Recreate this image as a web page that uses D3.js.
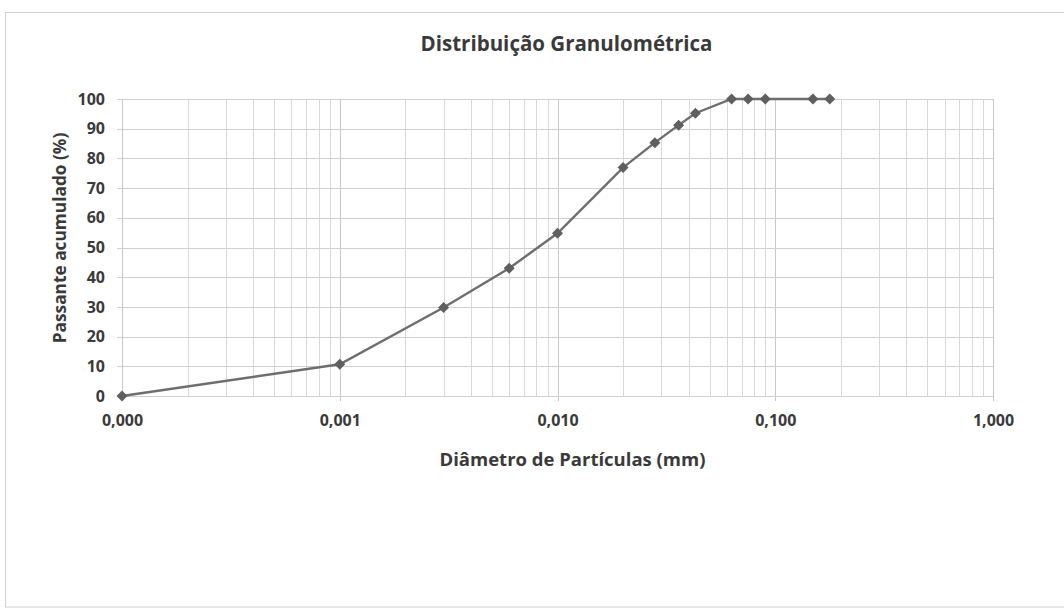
<!DOCTYPE html>
<html><head><meta charset="utf-8">
<script src="https://cdn.jsdelivr.net/npm/d3@7"></script>
<style>
body{margin:0;background:#fff;}
text{font-family:"Open Sans",sans-serif;font-weight:bold;fill:#3a3a3a;}
</style></head>
<body>
<svg id="c" width="1064" height="610"></svg>
<script>
const diameters = [0.0001, 0.001, 0.003, 0.006, 0.01, 0.02, 0.028, 0.036, 0.043, 0.063, 0.075, 0.09, 0.149, 0.178];
const passing   = [0, 10.7, 29.8, 43, 54.8, 76.9, 85.3, 91.2, 95.2, 100, 100, 100, 100, 100];
const xTickValues = [0.0001, 0.001, 0.01, 0.1, 1];
const xTickLabels = ["0,000", "0,001", "0,010", "0,100", "1,000"];
const yTickValues = [0,10,20,30,40,50,60,70,80,90,100];
const title = "Distribuição Granulométrica";
const xTitle = "Diâmetro de Partículas (mm)";
const yTitle = "Passante acumulado (%)";

const svg = d3.select("#c");
const L=122, R=993, T=99, B=396;
// chart frame
svg.append("rect").attr("x",5.5).attr("y",12.5).attr("width",1070).attr("height",594.5)
  .attr("fill","#fff").attr("stroke","#d0d0d0").attr("stroke-width",1);

const x = d3.scaleLog().domain([0.0001,1]).range([L,R]);
const y = d3.scaleLinear().domain([0,100]).range([B,T]);

// minor / major vertical gridlines
const vlines=[];
for(let e=-4;e<0;e++){ for(let m=1;m<=9;m++){ vlines.push(m*Math.pow(10,e)); } }
vlines.push(1);
const isMajor = d => Math.abs(Math.log10(d) - Math.round(Math.log10(d))) < 1e-9;
svg.append("g").selectAll("line").data(vlines).join("line")
  .attr("x1",d=>Math.round(x(d))+0.5).attr("x2",d=>Math.round(x(d))+0.5)
  .attr("y1",T).attr("y2",d=>isMajor(d)?B+5:B)
  .attr("stroke",d=>isMajor(d)?"#c8c8c8":"#d9d9d9").attr("stroke-width",1);
// horizontal gridlines
svg.append("g").selectAll("line").data(yTickValues).join("line")
  .attr("x1",L-5).attr("x2",R)
  .attr("y1",d=>Math.round(y(d))+0.5).attr("y2",d=>Math.round(y(d))+0.5)
  .attr("stroke","#cfcfcf").attr("stroke-width",1);

// axes labels via d3 axes
const yAxis = d3.axisLeft(y).tickValues(yTickValues).tickSize(0).tickPadding(0);
const gy = svg.append("g").attr("transform",`translate(105,0)`).call(yAxis);
gy.select(".domain").remove();
gy.selectAll("text").style("font-size","16px").attr("fill","#3a3a3a");

const xAxis = d3.axisBottom(x).tickValues(xTickValues).tickFormat((d,i)=>xTickLabels[i]).tickSize(0).tickPadding(0);
const gx = svg.append("g").attr("transform",`translate(0,414.6)`).call(xAxis);
gx.select(".domain").remove();
gx.selectAll("text").style("font-size","16px").attr("fill","#3a3a3a");

// titles
svg.append("text").attr("x",566.5).attr("y",51).attr("text-anchor","middle")
  .style("font-size","20.5px").text(title);
svg.append("text").attr("x",572.5).attr("y",466).attr("text-anchor","middle")
  .style("font-size","18.5px").text(xTitle);
svg.append("text").attr("transform","translate(66,238) rotate(-90)").attr("text-anchor","middle")
  .style("font-size","17.3px").text(yTitle);

// line
const pts = diameters.map((d,i)=>[d,passing[i]]);
svg.append("path").datum(pts)
  .attr("d",d3.line().x(d=>x(d[0])).y(d=>y(d[1])))
  .attr("fill","none").attr("stroke","#6e6e6e").attr("stroke-width",2.4);
// diamond markers
svg.append("g").selectAll("path").data(pts).join("path")
  .attr("transform",d=>`translate(${x(d[0])},${y(d[1])})`)
  .attr("d","M0,-5.5L5.5,0L0,5.5L-5.5,0Z").attr("fill","#5f5f5f");
</script>
</body></html>
